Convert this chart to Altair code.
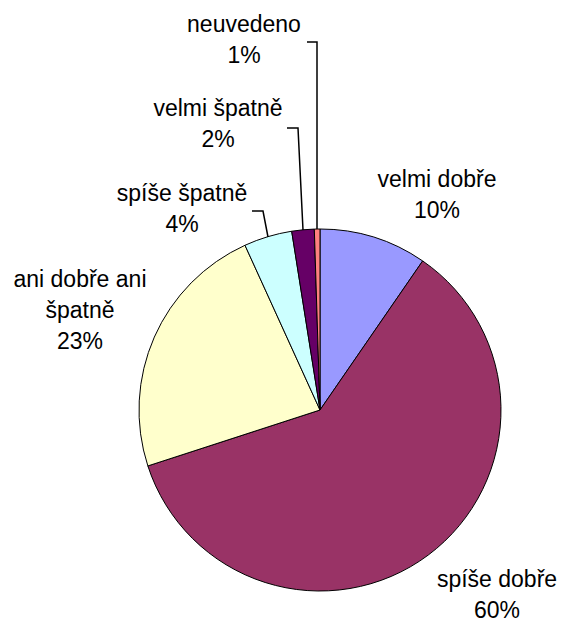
import altair as alt
import pandas as pd

# ---- data ----
categories = ["velmi dobře", "spíše dobře", "ani dobře ani špatně",
              "spíše špatně", "velmi špatně", "neuvedeno"]
values = [9.6, 60.4, 23.2, 4.3, 2.0, 0.5]
pct_labels = ["10%", "60%", "23%", "4%", "2%", "1%"]
label_names = ["velmi dobře", "spíše dobře", "ani dobře ani\nšpatně",
               "spíše špatně", "velmi špatně", "neuvedeno"]
colors = ["#9999FF", "#993366", "#FFFFCC", "#CCFFFF", "#660066", "#FF8080"]

# ---- layout (plot-area pixels; page offset 8px) ----
OFF = 8
CX, CY, R = 320 - OFF, 410 - OFF, 181
label_pos = {
    "velmi dobře": (437, 187),
    "spíše dobře": (497, 587),
    "ani dobře ani špatně": (80, 287),
    "spíše špatně": (182, 201),
    "velmi špatně": (218, 116),
    "neuvedeno": (244, 32),
}
leaders = {
    "spíše špatně": [(252, 211), (263, 211), (268, 237)],
    "velmi špatně": [(287, 128), (298, 128), (303, 230)],
    "neuvedeno": [(307, 42), (317, 42), (317, 229)],
}

df = pd.DataFrame({"cat": categories, "val": values,
                   "idx": list(range(len(categories)))})

pie = alt.Chart(df).mark_arc(radius=R, stroke="black", strokeWidth=1).encode(
    theta=alt.Theta("val:Q", stack=True),
    order=alt.Order("idx:Q"),
    color=alt.Color("cat:N", scale=alt.Scale(domain=categories, range=colors),
                    legend=None),
    x=alt.value(CX),
    y=alt.value(CY),
)

lab_df = pd.DataFrame({
    "txt": [f"{n}\n{p}" for n, p in zip(label_names, pct_labels)],
    "lx": [label_pos[c][0] - OFF for c in categories],
    "ly": [label_pos[c][1] - OFF for c in categories],
})
labels = alt.Chart(lab_df).mark_text(
    font="Liberation Sans", fontSize=23, color="#000", align="center",
    baseline="alphabetic", lineBreak="\n", lineHeight=31,
).encode(
    x=alt.X("lx:Q", scale=None),
    y=alt.Y("ly:Q", scale=None),
    text="txt:N",
)

rows = []
for name, pts in leaders.items():
    for i, (px, py) in enumerate(pts):
        rows.append({"g": name, "o": i, "px": px - OFF, "py": py - OFF})
lead_df = pd.DataFrame(rows)
lines = alt.Chart(lead_df).mark_line(color="black", strokeWidth=1.5).encode(
    x=alt.X("px:Q", scale=None),
    y=alt.Y("py:Q", scale=None),
    detail="g:N",
    order="o:Q",
)

chart = alt.layer(pie, lines, labels).properties(
    width=549, height=617, padding=0,
    autosize=alt.AutoSizeParams(type="none"),
).configure_view(stroke=None)

chart.save("out.html", embed_options={"renderer": "svg", "actions": False})
